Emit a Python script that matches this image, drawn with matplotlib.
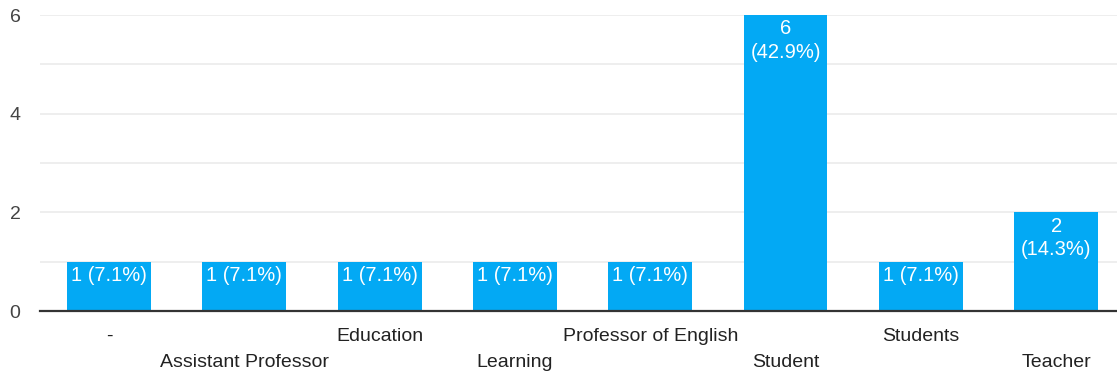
"""Response counts per occupation, drawn as a single-series bar chart."""
import matplotlib

matplotlib.use("Agg")
import matplotlib.pyplot as plt
import numpy as np

CATEGORIES = [
    "-",
    "Assistant Professor",
    "Education",
    "Learning",
    "Professor of English",
    "Student",
    "Students",
    "Teacher",
]
COUNTS = [1, 1, 1, 1, 1, 6, 1, 2]

BAR_COLOR = "#03a9f4"
GRID_COLOR = "#ebebeb"
TEXT_COLOR = "#222222"


def main() -> None:
    plt.rcParams["font.family"] = ["Liberation Sans", "DejaVu Sans"]

    W, H = 1117, 374
    figure = plt.figure(figsize=(W / 100, H / 100), dpi=100)
    axis = figure.add_axes([40 / W, 63 / H, (W - 40) / W, 296 / H])

    x = np.arange(len(CATEGORIES))
    counts = np.array(COUNTS)
    total = counts.sum()

    axis.bar(x, counts, width=0.62, color=BAR_COLOR, zorder=2)

    for xi, value in zip(x, counts):
        share = value / total * 100
        sep = "\n" if value > 1 else " "
        axis.annotate(f"{value}{sep}({share:.1f}%)", (xi, value), xytext=(0, -3),
                      textcoords="offset points", ha="center", va="top",
                      color="white", fontsize=14.5, linespacing=1.3, zorder=3)

    axis.set_xlim(-0.51, 7.45)
    axis.set_ylim(0, 6)
    axis.set_yticks([0, 2, 4, 6])
    axis.set_yticks([1, 3, 5], minor=True)
    axis.grid(axis="y", which="both", color=GRID_COLOR, linewidth=1.2, zorder=0)
    axis.tick_params(axis="y", which="both", length=0, pad=14, labelsize=14, labelcolor="#444444")

    axis.set_xticks(x)
    axis.set_xticklabels([])
    axis.tick_params(axis="x", length=0)
    # alternate labels between two rows so the long names don't collide
    for xi, name in zip(x, CATEGORIES):
        offset = -12 if xi % 2 == 0 else -31
        axis.annotate(name, (xi, 0), xytext=(0, offset), textcoords="offset points",
                      ha="center", va="top", fontsize=14, color=TEXT_COLOR,
                      annotation_clip=False)

    for side in ("top", "right", "left"):
        axis.spines[side].set_visible(False)
    axis.spines["bottom"].set_color("#333333")
    axis.spines["bottom"].set_linewidth(1.6)
    axis.spines["bottom"].set_zorder(4)

    figure.savefig("out.png", dpi=100)
    plt.close(figure)


if __name__ == "__main__":
    main()
